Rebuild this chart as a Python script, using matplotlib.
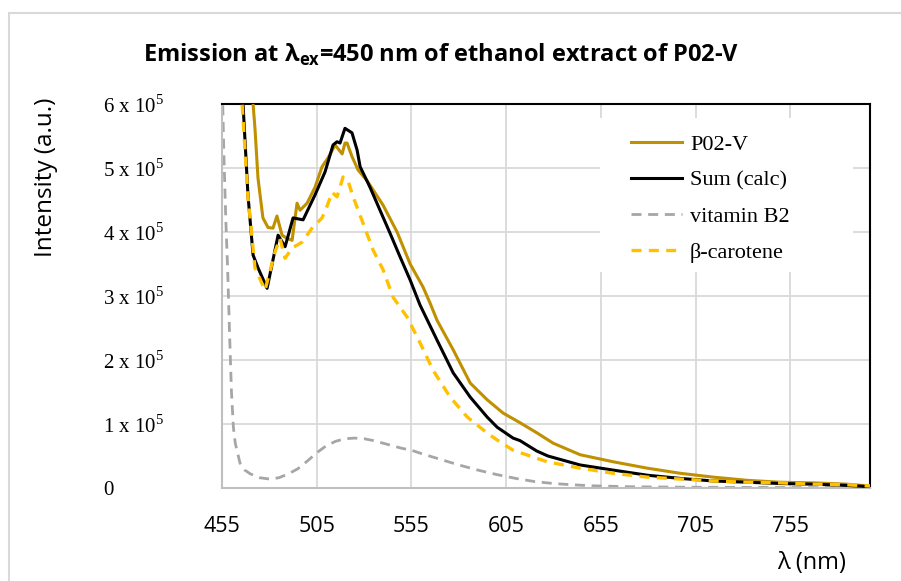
import matplotlib
matplotlib.use("Agg")
import matplotlib.pyplot as plt
from matplotlib.patches import Rectangle

# ---------------- data ----------------
p02v_x = [469.5, 471.4, 472.4, 474.0, 476.6, 479.3, 481.9, 484.0, 486.7, 489.3, 492.0,
          494.6, 496.2, 499.9, 504.1, 507.8, 511.0, 514.7, 518.4, 519.9, 521.0, 523.6,
          526.8, 531.6, 534.7, 540.0, 547.4, 554.3, 561.1, 564.8, 568.5, 577.0, 586.0,
          594.9, 603.4, 612.3, 621.3, 629.8, 644.0, 661.4, 679.4, 696.8, 714.2, 732.2,
          749.6, 767.0, 785.0, 797.0]
p02v_y = [7.0, 6.0, 5.62, 4.84, 4.22, 4.07, 4.06, 4.25, 3.95, 3.90, 3.87,
          4.45, 4.34, 4.45, 4.70, 5.02, 5.16, 5.36, 5.22, 5.39, 5.39, 5.18,
          4.97, 4.80, 4.66, 4.42, 4.00, 3.50, 3.14, 2.89, 2.62, 2.16, 1.64,
          1.38, 1.17, 1.02, 0.86, 0.70, 0.52, 0.41, 0.31, 0.23, 0.17, 0.12,
          0.09, 0.08, 0.06, 0.03]

sum_x = [464.5, 466.1, 468.7, 471.4, 474.0, 478.8, 484.6, 488.3, 492.5, 497.8, 504.1,
         509.4, 513.6, 515.7, 517.3, 519.9, 523.6, 526.3, 527.9, 533.1, 538.4, 543.7,
         549.0, 554.3, 559.5, 568.5, 577.0, 586.0, 594.9, 600.2, 608.6, 612.3, 621.0,
         627.0, 644.0, 661.4, 679.4, 696.8, 714.2, 732.2, 749.6, 767.0, 785.0, 797.0]
sum_y = [6.8, 6.0, 4.58, 3.64, 3.44, 3.12, 3.95, 3.77, 4.22, 4.19, 4.58,
         4.94, 5.36, 5.41, 5.39, 5.62, 5.55, 5.28, 5.02, 4.70, 4.34, 3.98,
         3.61, 3.25, 2.86, 2.31, 1.80, 1.42, 1.11, 0.95, 0.78, 0.74, 0.58,
         0.50, 0.36, 0.28, 0.20, 0.15, 0.11, 0.09, 0.07, 0.06, 0.04, 0.02]

b2_x = [455, 456, 457, 458, 459, 460, 461, 462, 464.5, 467, 470, 475, 480, 485, 490,
        495, 500, 505, 510, 515, 520, 525, 530, 535, 540, 545, 550, 555, 560, 570,
        580, 590, 600, 610, 620, 630, 640, 650, 670, 700, 750, 797]
b2_y = [6.5, 5.2, 4.2, 3.4, 2.4, 1.5, 0.95, 0.7, 0.39, 0.28, 0.22, 0.16, 0.14, 0.16, 0.22,
        0.30, 0.42, 0.55, 0.66, 0.73, 0.77, 0.78, 0.77, 0.74, 0.70, 0.66, 0.62, 0.59, 0.54, 0.45,
        0.36, 0.28, 0.21, 0.15, 0.10, 0.07, 0.05, 0.035, 0.02, 0.012, 0.008, 0.005]

bcar_x = [464.5, 465.6, 468.7, 472.4, 477.7, 483.0, 485.6, 488.3, 492.0, 497.2, 502.5,
          507.8, 510.4, 513.1, 515.7, 518.9, 521.5, 524.2, 529.4, 534.7, 540.0, 545.3,
          552.7, 559.5, 566.4, 575.4, 584.4, 594.9, 600.2, 608.6, 626.6, 644.0, 661.4,
          679.4, 696.8, 714.2, 732.2, 749.6, 767.0, 785.0, 797.0]
bcar_y = [6.8, 6.0, 4.55, 3.44, 3.09, 3.69, 3.90, 3.59, 3.75, 3.84, 4.06,
          4.22, 4.40, 4.62, 4.55, 4.86, 4.80, 4.55, 4.14, 3.72, 3.41, 2.98,
          2.67, 2.27, 1.84, 1.42, 1.11, 0.86, 0.75, 0.59, 0.41, 0.31, 0.23,
          0.17, 0.14, 0.11, 0.09, 0.08, 0.06, 0.05, 0.03]

scale = 1e5
x_ticks = [455, 505, 555, 605, 655, 705, 755]
y_ticks = [0, 1, 2, 3, 4, 5, 6]
y_tick_labels = ["0", "1 x 10$^{\\mathregular{5}}$", "2 x 10$^{\\mathregular{5}}$",
                 "3 x 10$^{\\mathregular{5}}$", "4 x 10$^{\\mathregular{5}}$",
                 "5 x 10$^{\\mathregular{5}}$", "6 x 10$^{\\mathregular{5}}$"]
labels = ["P02-V", "Sum (calc)", "vitamin B2", "β-carotene"]
title = "Emission at λ$_{\\mathregular{ex}}$=450 nm of ethanol extract of P02-V"

# ---------------- figure ----------------
W, H = 901, 581
fig = plt.figure(figsize=(W / 100, H / 100), dpi=100)
ax = fig.add_axes([222 / W, 1 - 488 / H, (870 - 222) / W, (488 - 104) / H])

SANS = ["Open Sans", "DejaVu Sans"]
SERIF = ["Liberation Serif", "DejaVu Serif"]

def sy(v):
    return [a * scale for a in v]

ax.plot(p02v_x, sy(p02v_y), color="#BF9000", lw=2.2, zorder=3, label=labels[0])
ax.plot(sum_x, sy(sum_y), color="black", lw=2.2, zorder=4, label=labels[1])
ax.plot(b2_x, sy(b2_y), color="#A6A6A6", lw=2.0, ls=(0, (3.6, 2.4)), zorder=2, label=labels[2])
ax.plot(bcar_x, sy(bcar_y), color="#FFC000", lw=2.4, ls=(0, (3.0, 2.2)), zorder=5, label=labels[3])

ax.set_xlim(455, 797)
ax.set_ylim(0, 6 * scale)
ax.set_xticks(x_ticks)
ax.set_yticks([t * scale for t in y_ticks])
ax.set_yticklabels(y_tick_labels)
ax.set_axisbelow(True)
ax.grid(True, color="#D9D9D9", lw=1.3)

ax.tick_params(axis="both", length=0)
ax.tick_params(axis="y", pad=85.7)
ax.tick_params(axis="x", pad=20)
for t in ax.get_yticklabels():
    t.set_horizontalalignment("left")
    t.set_fontfamily(SERIF)
    t.set_fontsize(15)
for t in ax.get_xticklabels():
    t.set_fontfamily(SANS)
    t.set_fontsize(15.5)

for s in ("left", "bottom"):
    ax.spines[s].set_color("#BFBFBF")
    ax.spines[s].set_linewidth(1.5)
for s in ("top", "right"):
    ax.spines[s].set_color("black")
    ax.spines[s].set_linewidth(1.5)

# legend background (white box covering grid)
ax.add_patch(Rectangle(((600 - 222) / 648, (488 - 272) / 384), (853 - 600) / 648,
                       (272 - 118) / 384, transform=ax.transAxes, facecolor="white",
                       edgecolor="none", zorder=1.5))
leg = ax.legend(loc="upper left", bbox_to_anchor=((631 - 222) / 648, (488 - 134) / 384),
                frameon=False, prop={"family": SERIF, "size": 16}, handlelength=2.3,
                handletextpad=0.35, labelspacing=0.7, borderpad=0, borderaxespad=0)

fig.text(441 / W, 1 - 62 / H, title, ha="center", va="baseline",
         fontfamily=SANS, fontsize=17, fontweight="bold")
fig.text(46 / W, 1 - 177 / H, "Intensity (a.u.)", rotation=90, ha="center", va="center",
         fontfamily=SANS, fontsize=17.5)
fig.text(812 / W, 1 - 563 / H, "λ (nm)", ha="center", va="center",
         fontfamily=SANS, fontsize=17)

# outer light border
fig.patches.append(Rectangle((9 / W, -0.1), 1.2, 1 - 13 / H + 0.1, transform=fig.transFigure,
                             facecolor="none", edgecolor="#D9D9D9", lw=1.5, zorder=-1))

fig.savefig("out.png", dpi=100)
